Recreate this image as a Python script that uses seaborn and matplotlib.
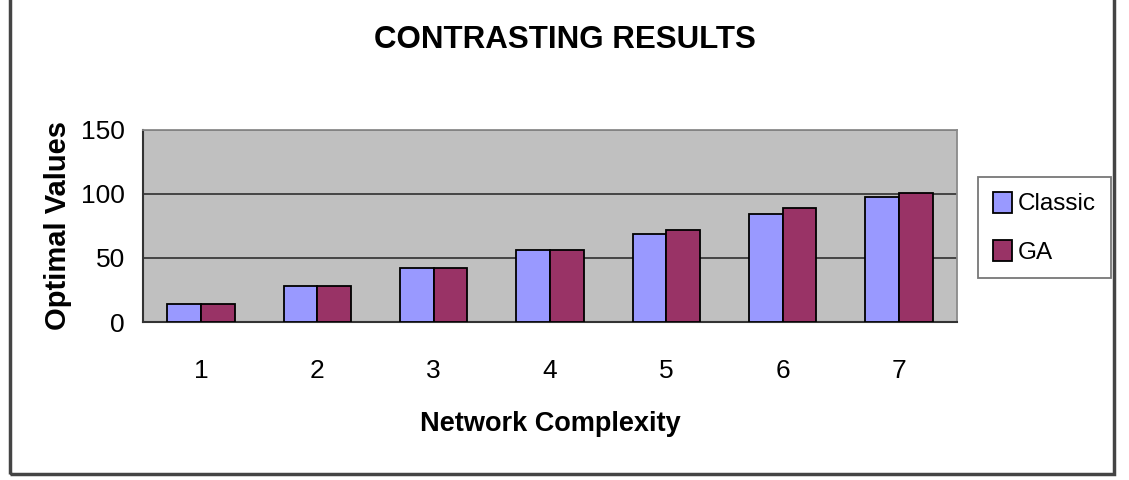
import pandas as pd
import matplotlib
matplotlib.use("Agg")
import matplotlib.pyplot as plt
from matplotlib.ticker import FixedLocator
from matplotlib.patches import Rectangle
import seaborn as sns

# Data
complexity = ['1', '2', '3', '4', '5', '6', '7']
classic = [14, 28, 42, 56, 69, 84, 98]
ga = [14, 28, 42, 56, 72, 89, 101]
series_names = ['Classic', 'GA']
colors = ['#9999FF', '#993366']

df = pd.DataFrame({
    'Network Complexity': complexity * 2,
    'Optimal Values': classic + ga,
    'Method': [series_names[0]] * len(classic) + [series_names[1]] * len(ga),
})

sns.set_style('white')
plt.rcParams['font.family'] = ['Liberation Sans', 'DejaVu Sans']
plt.rcParams['text.color'] = 'black'

fig = plt.figure(figsize=(11.29, 4.8), dpi=100)
ax = fig.add_axes([143 / 1129, 1 - 322 / 480, (957 - 143) / 1129, (322 - 130) / 480])
ax.set_facecolor('#C0C0C0')

sns.barplot(data=df, x='Network Complexity', y='Optimal Values', hue='Method',
            palette=colors, width=0.58, edgecolor='black', linewidth=1.3,
            saturation=1, ax=ax, zorder=3)

ax.set_ylim(0, 150)
ax.set_xlim(-0.5, len(complexity) - 0.5)
ax.set_yticks([0, 50, 100, 150])
ax.yaxis.grid(True, color='#3a3a3a', linewidth=1.3, zorder=1)
ax.set_axisbelow(True)

# category boundary ticks
ax.xaxis.set_minor_locator(FixedLocator([i - 0.5 for i in range(len(complexity) + 1)]))
ax.tick_params(axis='x', which='major', length=0, pad=27, labelsize=19, colors='black')
ax.tick_params(axis='x', which='minor', length=8, width=1.3, color='#333333', direction='out')
ax.tick_params(axis='y', length=8, width=1.3, color='#333333', direction='out',
               labelsize=19, labelcolor='black', pad=5)

for side in ['left', 'bottom']:
    ax.spines[side].set_color('#333333')
    ax.spines[side].set_linewidth(1.5)
for side in ['top', 'right']:
    ax.spines[side].set_color('#8a8a8a')
    ax.spines[side].set_linewidth(1.3)

ax.set_xlabel('Network Complexity', fontsize=19.5, fontweight='bold', color='black')
ax.set_ylabel('Optimal Values', fontsize=21, fontweight='bold', color='black')
ax.xaxis.set_label_coords(0.5, -0.465)
ax.yaxis.set_label_coords(-0.087, 0.5)

fig.text(565 / 1129, 1 - 40 / 480, 'CONTRASTING RESULTS', fontsize=22.5,
         fontweight='bold', ha='center', va='center', color='black')

handles, labels = ax.get_legend_handles_labels()
leg = ax.legend(handles, labels, loc='upper left',
                bbox_to_anchor=(978 / 1129, 1 - 177 / 480), bbox_transform=fig.transFigure,
                fontsize=17.5, frameon=True, fancybox=False, edgecolor='#555555',
                handlelength=0.8, handleheight=0.95, handletextpad=0.25,
                labelspacing=1.0, borderpad=0.6, borderaxespad=0)
leg.get_frame().set_linewidth(1.3)
for t in leg.get_texts():
    t.set_color('black')

# outer chart border (top runs off the image)
fig.patches.append(Rectangle((10 / 1129, 6 / 480), (1114 - 10) / 1129, 1.2,
                             transform=fig.transFigure, fill=False,
                             edgecolor='#444444', linewidth=2.5, zorder=0))

fig.savefig('out.png', dpi=100, facecolor='white')
